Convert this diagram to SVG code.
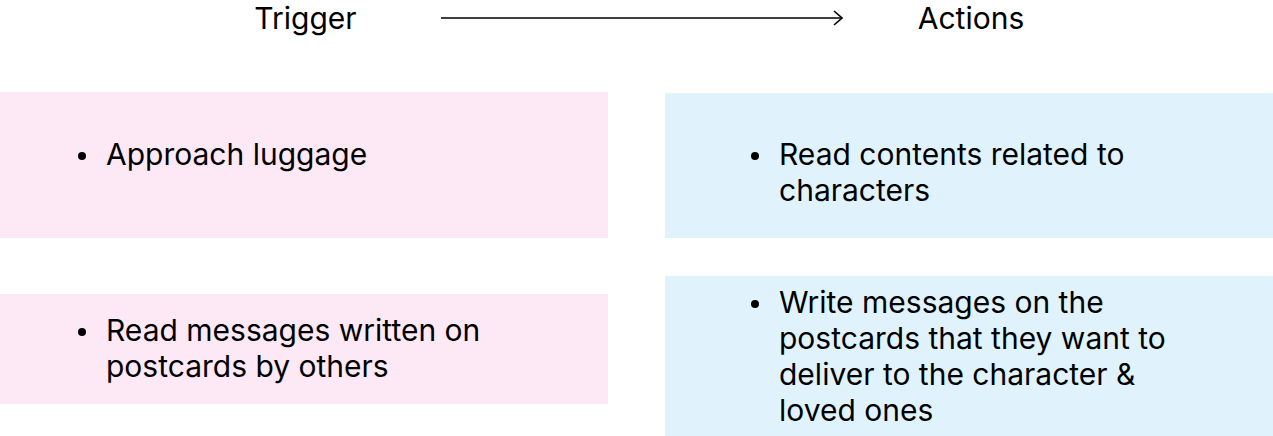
<svg xmlns="http://www.w3.org/2000/svg" width="1273" height="436" viewBox="0 0 1273 436">
<style>
text{font-family:Inter,"Liberation Sans",sans-serif;font-size:30px;fill:#000}
.pink{fill:#fde9f6}
.blue{fill:#e0f3fd}
</style>
<defs>
<marker id="arr" markerWidth="12" markerHeight="16" refX="11" refY="8" orient="auto" markerUnits="userSpaceOnUse">
<path d="M3,1 L11,8 L3,15" fill="none" stroke="#000" stroke-width="1.6"/>
</marker>
</defs>
<g id="trigger-label"><text x="305.5" y="29" text-anchor="middle">Trigger</text></g>
<g id="actions-label"><text x="971" y="29" text-anchor="middle">Actions</text></g>
<g id="connectors">
<line x1="441" y1="18" x2="842" y2="18" stroke="#000" stroke-width="1.6" marker-end="url(#arr)"/>
</g>
<g id="trigger1">
<rect class="pink" x="0" y="92" width="608" height="146"/>
<circle cx="82" cy="156" r="4"/>
<text x="106" y="165">Approach luggage</text>
</g>
<g id="trigger2">
<rect class="pink" x="0" y="294" width="608" height="110"/>
<circle cx="82" cy="332" r="4"/>
<text x="106" y="341">Read messages written on</text>
<text x="106" y="377">postcards by others</text>
</g>
<g id="action1">
<rect class="blue" x="665" y="93" width="608" height="145"/>
<circle cx="755" cy="156" r="4"/>
<text x="779" y="165">Read contents related to</text>
<text x="779" y="201">characters</text>
</g>
<g id="action2">
<rect class="blue" x="665" y="276" width="608" height="160"/>
<circle cx="755" cy="304" r="4"/>
<text x="779" y="313">Write messages on the</text>
<text x="779" y="349">postcards that they want to</text>
<text x="779" y="385">deliver to the character &amp;</text>
<text x="779" y="421">loved ones</text>
</g>
</svg>
